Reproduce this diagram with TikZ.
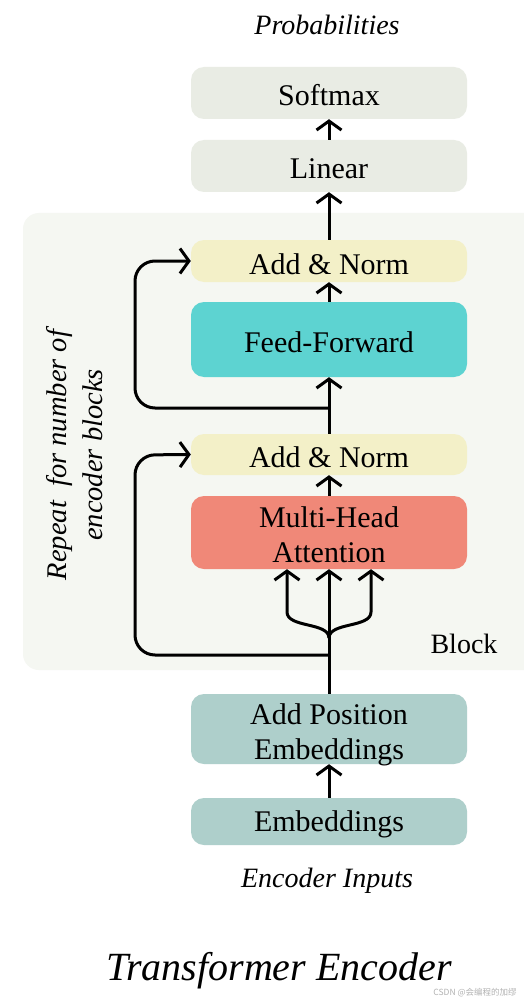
\documentclass[tikz,border=0pt]{standalone}
\usepackage{fontspec}
\setmainfont{Liberation Serif}
\newfontfamily\cjkfont{Noto Sans CJK SC}
\usetikzlibrary{arrows.meta}
\definecolor{cgray}{HTML}{E9ECE4}
\definecolor{cblock}{HTML}{F5F7F2}
\definecolor{cnorm}{HTML}{F3F0C8}
\definecolor{cff}{HTML}{5DD3D1}
\definecolor{cmha}{HTML}{F08878}
\definecolor{cemb}{HTML}{AECFCB}
\tikzset{
  box/.style={rounded corners=13pt, minimum width=276pt, inner sep=0pt, align=center,
    font=\fontsize{30}{35}\selectfont},
  one/.style={text height=26pt, text depth=0pt},
  txt/.style={inner sep=0pt, align=center, font=\fontsize{30}{35}\selectfont},
  lbl/.style={font=\fontsize{28}{34}\selectfont\itshape, inner sep=0pt},
  tip/.style={-{Straight Barb[length=9pt,width=25pt,line width=3pt]}},
  arr/.style={line width=3pt, tip},
  ln/.style={line width=3pt, rounded corners=20pt},
}
\begin{document}
\begin{tikzpicture}[x=1pt,y=-1pt]
\useasboundingbox (0,0) rectangle (524,1000);
\fill[white] (0,0) rectangle (524,1000);
% block background
\fill[cblock, rounded corners=16pt] (23,213) rectangle (545,670);
\node[box, one, fill=cgray, minimum height=52pt] (softmax) at (329,93) {Softmax};
\node[box, one, fill=cgray, minimum height=52pt] (linear) at (329,166) {Linear};
\node[box, one, fill=cnorm, minimum height=42pt] (an1) at (329,261) {Add \& Norm};
\node[box, one, fill=cff, minimum height=75pt] (ff) at (329,339.5) {Feed-Forward};
\node[box, one, fill=cnorm, minimum height=41pt] (an2) at (329,454.5) {Add \& Norm};
\node[box, fill=cmha, minimum height=73pt] (mha) at (329,532.5) {};
\node[txt] (mhatext) at (329,535) {Multi-Head\\Attention};
\node[box, fill=cemb, minimum height=70pt] (addpos) at (329,729) {};
\node[txt] (addpostext) at (329,735) {Add Position\\Embeddings};
\node[box, fill=cemb, minimum height=47pt, text height=24pt, text depth=5pt] (emb) at (329,821.5) {Embeddings};
% labels
\node[lbl] (prob) at (327,25) {Probabilities};
\node[lbl] (inputs) at (327,881) {Encoder Inputs};
\node[lbl, font=\fontsize{40}{48}\selectfont\itshape] (title) at (279,971) {Transformer Encoder};
\node[font=\fontsize{28}{34}\selectfont, inner sep=0pt] (blk) at (464,644) {Block};
\node[lbl, rotate=90, align=center, font=\fontsize{28.5}{36}\selectfont\itshape] (rep) at (75,455) {Repeat\ \ for number of\\encoder blocks};
\node[text=gray!60, font=\cjkfont\fontsize{8.5}{10}\selectfont, inner sep=0pt] (wm) at (475,993) {CSDN @会编程的加缪};
% arrows
\draw[arr] (linear.north) -- (softmax.south);
\draw[arr] (an1.north) -- (linear.south);
\draw[arr] (ff.north) -- (an1.south);
\draw[arr] (an2.north) -- (ff.south);
\draw[arr] (mha.north) -- (an2.south);
\draw[arr] (addpos.north) -- (mha.south);
\draw[arr] (emb.north) -- (addpos.south);
% residuals
\coordinate (r1) at (329,408);
\coordinate (r2) at (329,655);
\draw[ln, tip] (r1) -- (135,408) -- (135,261) -- (an1.west);
\draw[ln, tip] (r2) -- (135,655) -- (135,455) -- (an2.west);
% branches
\coordinate (split) at (329,638);
\coordinate (bl) at (287,612);
\coordinate (br) at (371,612);
\draw[arr] (split) .. controls (329,622) and (287,628) .. (bl) -- (bl |- mha.south);
\draw[arr] (split) .. controls (329,622) and (371,628) .. (br) -- (br |- mha.south);
\end{tikzpicture}
\end{document}
